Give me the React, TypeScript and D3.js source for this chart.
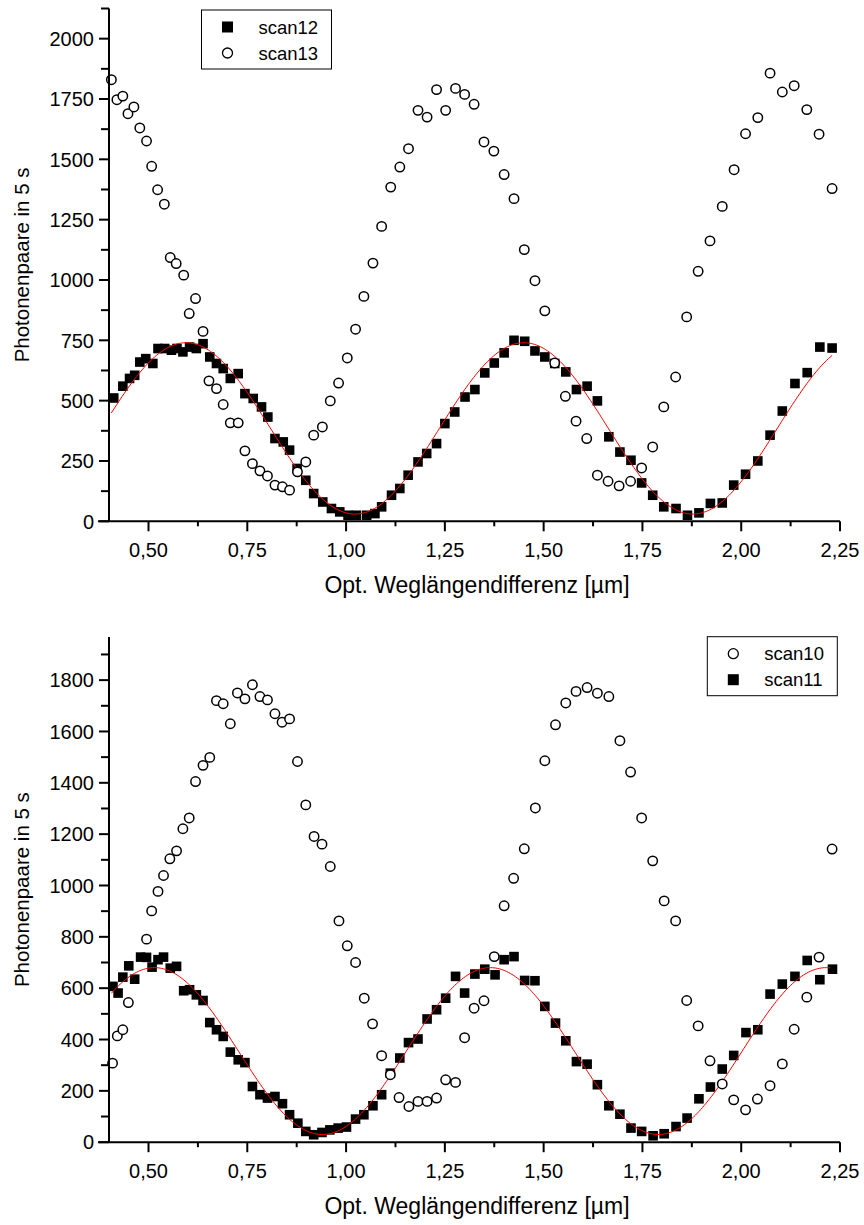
import React from "react";
import * as d3 from "d3";

// ---------- DATA ----------
const scan12X = [0.412,0.435,0.452,0.465,0.478,0.493,0.511,0.524,0.541,0.558,0.572,0.587,0.604,0.621,0.638,0.655,0.672,0.689,0.707,0.727,0.744,0.765,0.786,0.802,0.820,0.841,0.857,0.876,0.898,0.918,0.941,0.963,0.984,1.005,1.026,1.052,1.073,1.090,1.115,1.136,1.157,1.182,1.204,1.229,1.250,1.275,1.301,1.326,1.351,1.375,1.400,1.425,1.452,1.478,1.503,1.528,1.556,1.583,1.610,1.636,1.665,1.693,1.721,1.748,1.776,1.804,1.835,1.864,1.893,1.922,1.952,1.981,2.011,2.042,2.073,2.104,2.136,2.167,2.199,2.230];
const scan12Y = [511,560,592,605,660,674,654,716,716,709,716,702,722,716,736,681,654,633,592,612,529,509,474,432,343,329,295,219,170,115,80,53,39,25,25,25,32,60,108,136,191,246,281,322,405,453,515,546,615,656,698,750,746,706,681,654,619,546,560,499,350,287,253,159,108,60,53,25,35,74,76,150,195,250,357,457,571,616,722,718];

const scan13X = [0.406,0.420,0.435,0.448,0.463,0.478,0.495,0.508,0.523,0.540,0.555,0.570,0.589,0.603,0.619,0.638,0.653,0.672,0.689,0.707,0.727,0.744,0.763,0.782,0.801,0.820,0.839,0.857,0.877,0.898,0.918,0.940,0.960,0.981,1.003,1.024,1.045,1.068,1.090,1.113,1.136,1.158,1.182,1.205,1.229,1.252,1.277,1.300,1.324,1.349,1.374,1.400,1.425,1.451,1.478,1.503,1.528,1.555,1.582,1.609,1.636,1.663,1.691,1.720,1.748,1.776,1.804,1.834,1.862,1.891,1.921,1.952,1.982,2.011,2.042,2.073,2.104,2.134,2.166,2.197,2.230];
const scan13Y = [1830,1747,1762,1689,1717,1630,1576,1471,1374,1314,1093,1068,1020,861,923,787,582,550,484,408,408,292,239,209,188,150,143,129,205,246,357,391,499,573,677,796,932,1070,1222,1385,1468,1544,1703,1675,1789,1703,1794,1769,1728,1572,1534,1437,1337,1126,997,872,656,518,415,343,191,166,147,166,221,308,474,598,847,1036,1162,1305,1457,1606,1673,1857,1779,1805,1706,1604,1379];

const scan10X = [0.409,0.421,0.435,0.449,0.495,0.508,0.524,0.538,0.554,0.571,0.587,0.603,0.619,0.638,0.655,0.672,0.689,0.707,0.725,0.744,0.763,0.782,0.801,0.820,0.838,0.857,0.877,0.898,0.919,0.939,0.960,0.982,1.003,1.024,1.046,1.067,1.090,1.112,1.134,1.159,1.182,1.205,1.229,1.252,1.277,1.300,1.324,1.349,1.375,1.400,1.424,1.451,1.479,1.503,1.530,1.556,1.582,1.610,1.636,1.665,1.693,1.720,1.748,1.776,1.805,1.834,1.862,1.891,1.921,1.952,1.981,2.011,2.041,2.073,2.104,2.134,2.166,2.197,2.230];
const scan10Y = [308,414,438,544,791,901,977,1039,1104,1135,1221,1263,1405,1468,1499,1720,1708,1630,1750,1727,1782,1736,1723,1669,1636,1649,1483,1314,1191,1161,1074,862,765,700,561,461,337,263,174,139,159,159,172,243,233,407,522,551,723,921,1028,1143,1302,1486,1626,1711,1756,1771,1749,1736,1564,1442,1263,1096,940,862,552,453,317,227,165,126,168,220,305,440,565,721,1142];

const scan11X = [0.410,0.423,0.435,0.450,0.465,0.480,0.495,0.509,0.524,0.538,0.555,0.571,0.589,0.604,0.621,0.638,0.655,0.672,0.689,0.707,0.727,0.744,0.763,0.782,0.801,0.820,0.839,0.857,0.878,0.898,0.918,0.939,0.959,0.980,1.001,1.024,1.045,1.068,1.090,1.112,1.136,1.158,1.182,1.205,1.229,1.252,1.277,1.300,1.326,1.351,1.377,1.400,1.425,1.452,1.478,1.503,1.530,1.556,1.583,1.610,1.636,1.665,1.693,1.721,1.748,1.777,1.805,1.835,1.863,1.893,1.922,1.952,1.981,2.012,2.042,2.073,2.104,2.136,2.167,2.199,2.231];
const scan11Y = [607,581,643,687,635,721,720,682,711,721,678,685,590,594,574,552,466,438,412,351,321,310,217,185,172,178,150,107,74,42,29,38,48,55,59,90,107,142,185,269,328,388,402,480,516,561,646,581,655,674,652,711,723,630,629,529,464,395,314,304,224,142,109,55,42,25,33,61,94,169,215,285,338,427,438,577,616,646,708,633,674];

// fit parameters: [offset, amplitude, x of maximum, period, xStart, xEnd]
const fitTop = [385, 355, 0.595, 0.855, 0.406, 2.23];
const fitBottom = [355, 325, 0.515, 0.85, 0.406, 2.225];

const xTicksMajor = [0.5, 0.75, 1.0, 1.25, 1.5, 1.75, 2.0, 2.25];
const yTicksTop = [0, 250, 500, 750, 1000, 1250, 1500, 1750, 2000];
const yTicksBottom = [0, 200, 400, 600, 800, 1000, 1200, 1400, 1600, 1800];

const legendTop = ["scan12", "scan13"];
const legendBottom = ["scan10", "scan11"];

const xTitle = "Opt. Weglängendifferenz [µm]";
const yTitle = "Photonenpaare in 5 s";

// ---------- LAYOUT ----------
const W = 864, H = 1225;
const xLeft = 109, xRight = 840;
const FONT = "Liberation Sans, Arial, sans-serif";

type Panel = {
  top: number; bottom: number; yMax: number; yTicks: number[]; yMinorStep: number;
  squares: [number[], number[]]; circles: [number[], number[]]; fit: number[];
  legend: string[]; legendOrder: ("sq" | "ci")[]; legendBox: [number, number];
};

const xScale = d3.scaleLinear().domain([0.4, 2.25]).range([xLeft, xRight]);

function PanelView({ p }: { p: Panel }) {
  const y = d3.scaleLinear().domain([0, p.yMax]).range([p.bottom, p.top]);
  const minorY: number[] = [];
  for (let v = p.yMinorStep; v <= p.yMax + 1e-9; v += p.yMinorStep * 2) minorY.push(v);
  const minorX: number[] = [];
  for (let v = 0.625; v < 2.25; v += 0.25) minorX.push(v);
  const fmt = (v: number) => v.toFixed(2).replace(".", ",");
  const [off, amp, xm, per, xs, xe] = p.fit;
  const fitPts = d3.range(0, 401).map((i) => {
    const xv = xs + ((xe - xs) * i) / 400;
    return [xv, off + amp * Math.cos((2 * Math.PI * (xv - xm)) / per)] as [number, number];
  });
  const line = d3.line<[number, number]>().x((d) => xScale(d[0])).y((d) => y(d[1]));
  const sq = 9.6;
  const r = 4.7;
  const [lx, ly] = p.legendBox;
  const mid = (p.top + p.bottom) / 2;
  return (
    <g>
      {p.squares[0].map((xv, i) => (
        <rect key={"s" + i} x={xScale(xv) - sq / 2} y={y(p.squares[1][i]) - sq / 2} width={sq} height={sq} fill="#000" />
      ))}
      <path d={line(fitPts) || ""} fill="none" stroke="#ff0000" strokeWidth={1} />
      {p.circles[0].map((xv, i) => (
        <circle key={"c" + i} cx={xScale(xv)} cy={y(p.circles[1][i])} r={r} fill="#fff" stroke="#000" strokeWidth={1.5} />
      ))}
      <line x1={xLeft} x2={xLeft} y1={p.top} y2={p.bottom} stroke="#000" strokeWidth={2} />
      <line x1={xLeft - 11} x2={xRight} y1={p.bottom} y2={p.bottom} stroke="#000" strokeWidth={2} />
      {p.yTicks.map((v) => (
        <g key={"yt" + v}>
          <line x1={xLeft - 10} x2={xLeft} y1={y(v)} y2={y(v)} stroke="#000" strokeWidth={2} />
          <text x={xLeft - 15} y={y(v)} dy="0.36em" textAnchor="end" fontSize={20} fontFamily={FONT}>{v}</text>
        </g>
      ))}
      {minorY.map((v) => (
        <line key={"ym" + v} x1={xLeft - 8} x2={xLeft} y1={y(v)} y2={y(v)} stroke="#000" strokeWidth={2} />
      ))}
      {xTicksMajor.map((v) => (
        <g key={"xt" + v}>
          <line x1={xScale(v)} x2={xScale(v)} y1={p.bottom} y2={p.bottom + 10} stroke="#000" strokeWidth={2} />
          <text x={xScale(v)} y={p.bottom + 36} textAnchor="middle" fontSize={20} fontFamily={FONT}>{fmt(v)}</text>
        </g>
      ))}
      {minorX.map((v) => (
        <line key={"xm" + v} x1={xScale(v)} x2={xScale(v)} y1={p.bottom} y2={p.bottom + 5} stroke="#000" strokeWidth={2} />
      ))}
      <text x={477} y={p.bottom + 72} textAnchor="middle" fontSize={23} fontFamily={FONT}>{xTitle}</text>
      <text transform={`translate(29,${mid}) rotate(-90)`} textAnchor="middle" fontSize={20.5} fontFamily={FONT}>{yTitle}</text>
      <rect x={lx} y={ly} width={130} height={59} fill="#fff" stroke="#000" strokeWidth={1} />
      {p.legend.map((name, i) => {
        const cy = ly + 17 + i * 26;
        return (
          <g key={name}>
            {p.legendOrder[i] === "sq" ? (
              <rect x={lx + 26 - 5.5} y={cy - 5.5} width={11} height={11} fill="#000" />
            ) : (
              <circle cx={lx + 26} cy={cy} r={5} fill="#fff" stroke="#000" strokeWidth={1.3} />
            )}
            <text x={lx + 57} y={cy} dy="0.36em" fontSize={18.5} fontFamily={FONT}>{name}</text>
          </g>
        );
      })}
    </g>
  );
}

const topPanel: Panel = {
  top: 8.5, bottom: 521.3, yMax: 2125, yTicks: yTicksTop, yMinorStep: 125,
  squares: [scan12X, scan12Y], circles: [scan13X, scan13Y], fit: fitTop,
  legend: legendTop, legendOrder: ["sq", "ci"], legendBox: [201.5, 10],
};
const bottomPanel: Panel = {
  top: 637, bottom: 1142.2, yMax: 1968, yTicks: yTicksBottom, yMinorStep: 100,
  squares: [scan11X, scan11Y], circles: [scan10X, scan10Y], fit: fitBottom,
  legend: legendBottom, legendOrder: ["ci", "sq"], legendBox: [707.3, 636.7],
};

export default function App() {
  return (
    <svg width={W} height={H} style={{ position: "absolute", left: 0, top: 0, background: "#fff" }}>
      <rect width={W} height={H} fill="#fff" />
      <PanelView p={topPanel} />
      <PanelView p={bottomPanel} />
    </svg>
  );
}
